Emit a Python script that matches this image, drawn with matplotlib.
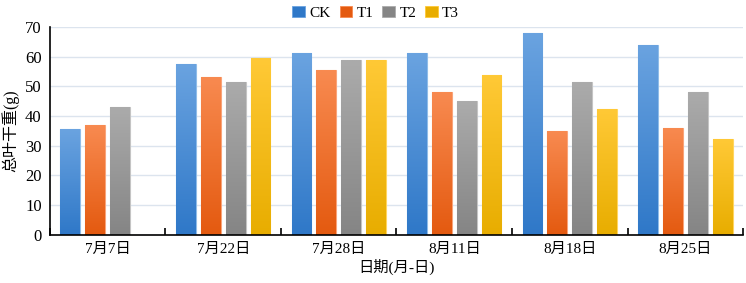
import matplotlib
matplotlib.use("Agg")
import matplotlib.pyplot as plt
import numpy as np
from matplotlib.colors import LinearSegmentedColormap
from matplotlib.patches import Patch

plt.rcParams['font.family'] = ['Liberation Serif', 'Noto Sans CJK SC']

dates = ["7月7日", "7月22日", "7月28日", "8月11日", "8月18日", "8月25日"]
series = ["CK", "T1", "T2", "T3"]
ck = [35.6, 57.6, 61.2, 61.2, 67.8, 64.0]
t1 = [37.0, 53.3, 55.4, 48.0, 34.8, 36.1]
t2 = [43.2, 51.5, 58.8, 45.0, 51.3, 48.0]
t3 = [np.nan, 59.5, 59.0, 53.7, 42.4, 32.2]
values = [ck, t1, t2, t3]

# (top, bottom, edge) colours of the gradient fill
shades = [("#6aa3e0", "#2f78c8", "#8fbce8"),
          ("#f88a50", "#e45a10", "#f9a47a"),
          ("#ababab", "#858585", "#c4c4c4"),
          ("#ffc936", "#e8ad00", "#ffd560")]

fig = plt.figure(figsize=(7.46, 2.83), dpi=100)
ax = fig.add_axes([0.067, 0.170, 0.929, 0.735])

x = np.arange(len(dates))
pitch = 0.216
width = 0.17
handles = []
for i, (name, vals) in enumerate(zip(series, values)):
    top, bot, edge = shades[i]
    cmap = LinearSegmentedColormap.from_list(name, [bot, top])
    pos = x + (i - 1.5) * pitch
    bars = ax.bar(pos, np.nan_to_num(vals), width, color=top, edgecolor=edge,
                  linewidth=0.8, zorder=2)
    for b, v in zip(bars, vals):
        if np.isnan(v):
            b.set_visible(False)
            continue
        x0, w, h = b.get_x(), b.get_width(), b.get_height()
        grad = np.linspace(0, 1, 100).reshape(-1, 1)
        im = ax.imshow(grad, extent=[x0, x0 + w, 0, h], origin="lower",
                       cmap=cmap, aspect="auto", zorder=2.5)
        im.set_clip_path(b)
    handles.append(Patch(facecolor=shades[i][1], edgecolor=shades[i][0],
                         linewidth=0.6))

ax.set_xlim(-0.5, len(dates) - 0.5)
ax.set_ylim(0, 70)
ax.set_yticks(range(0, 71, 10))
ax.set_xticks(x)
ax.set_xticklabels(dates)
ax.set_xticks(np.arange(-0.5, len(dates), 1.0), minor=True)
ax.tick_params(axis="x", which="major", length=0, labelsize=11, pad=6)
ax.tick_params(axis="x", which="minor", direction="in", length=5, width=1.2)
ax.tick_params(axis="y", length=0, labelsize=12, pad=6)
ax.yaxis.grid(True, color="#dce4ee", linewidth=1, zorder=0)
ax.set_axisbelow(True)
for s in ["top", "right"]:
    ax.spines[s].set_visible(False)
ax.spines["left"].set_linewidth(1.2)
ax.spines["bottom"].set_linewidth(1.2)

ax.set_xlabel("日期(月-日)", fontsize=11, labelpad=2)
ax.set_ylabel("总叶干重(g)", fontsize=11.5, labelpad=4)

ax.legend(handles, series, loc="lower center", bbox_to_anchor=(0.47, 0.99),
          ncol=4, frameon=False, fontsize=11, handlelength=0.8,
          handleheight=0.8, handletextpad=0.3, columnspacing=0.6,
          borderpad=0.1)

fig.savefig("out.png", dpi=100)
